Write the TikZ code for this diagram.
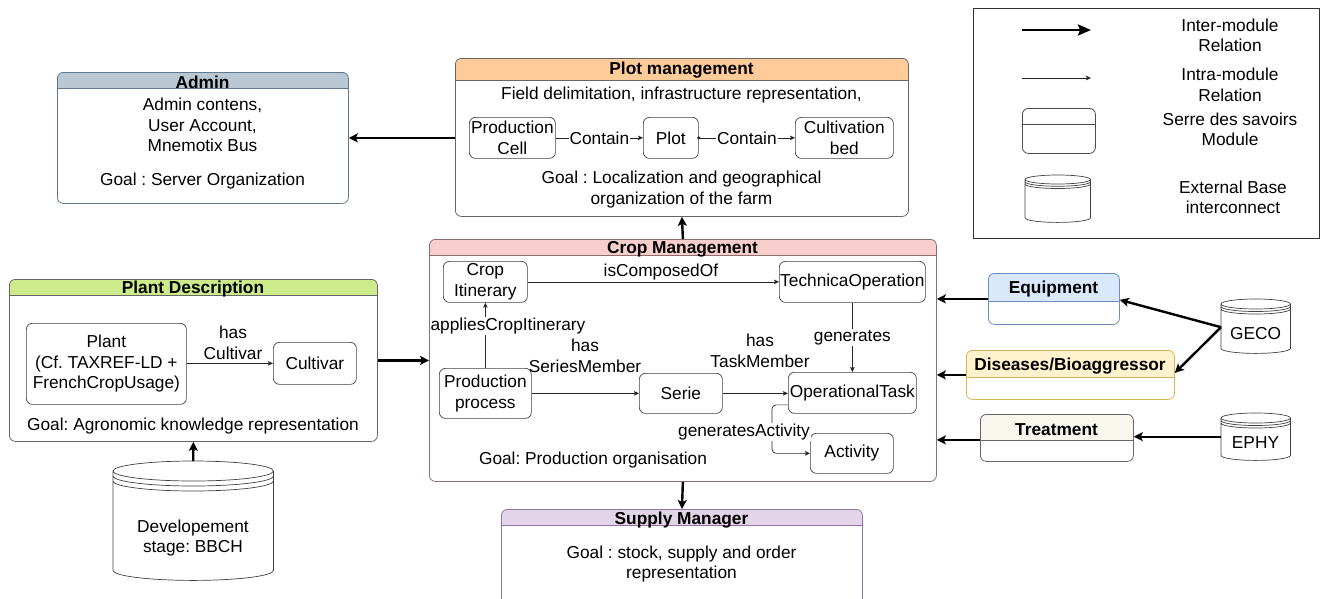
\documentclass[tikz,border=0pt]{standalone}
\usepackage{fontspec}
\setmainfont{Liberation Sans}
\usetikzlibrary{arrows.meta,calc}
\definecolor{adminH}{HTML}{BAC8D3}\definecolor{adminB}{HTML}{5F7A8F}
\definecolor{plotH}{HTML}{FFCC99}\definecolor{grayB}{HTML}{666666}
\definecolor{cropH}{HTML}{F8CECC}\definecolor{cropB}{HTML}{8E6E6D}
\definecolor{plantH}{HTML}{CDEB8B}
\definecolor{supH}{HTML}{E1D5E7}\definecolor{supB}{HTML}{9673A6}
\definecolor{eqH}{HTML}{DAE8FC}\definecolor{eqB}{HTML}{6C8EBF}
\definecolor{disH}{HTML}{FFF2CC}\definecolor{disB}{HTML}{D6B656}
\definecolor{trH}{HTML}{F9F7ED}
\newcommand\dfont{\fontsize{17.3}{20.5}\selectfont\frenchspacing}
\newcommand\dbshape[2]{%
\draw[dbline] let \p1=(#1.north west),\p2=(#1.south east),\n1={(\x2-\x1)/2} in
 (\x1,\y1-#2pt) -- (\x1,\y2+#2pt) arc[start angle=180,end angle=360,x radius=\n1,y radius=#2pt] -- (\x2,\y1-#2pt)
 arc[start angle=0,end angle=360,x radius=\n1,y radius=#2pt]
 (\x1,\y1-1.5*#2pt) arc[start angle=180,end angle=360,x radius=\n1,y radius=#2pt]
 (\x1,\y1-2*#2pt) arc[start angle=180,end angle=360,x radius=\n1,y radius=#2pt];}
\begin{document}
\frenchspacing
\begin{tikzpicture}[x=1pt,y=1pt,
  every node/.style={font=\dfont, align=center, inner sep=0pt},
  module/.style n args={3}{draw=#3, line width=0.8pt, rounded corners=6pt, anchor=north west,
    path picture={\fill[#1, sharp corners] (path picture bounding box.north west) rectangle ([yshift=-#2pt]path picture bounding box.north east);
      \draw[#3, line width=0.8pt, sharp corners] ([yshift=-#2pt]path picture bounding box.north west) -- ([yshift=-#2pt]path picture bounding box.north east);}},
  inbox/.style={draw=black!75, line width=0.7pt, rounded corners=6pt, anchor=north west},
  title/.style={font=\dfont\bfseries},
  dbnode/.style={anchor=north west, draw=none},
  dbline/.style={draw=black!75, line width=0.7pt},
  inter/.style={line width=2.4pt, -{Stealth[length=9pt,width=9pt,inset=2pt]}},
  intra/.style={line width=0.7pt, draw=black!85, -{Stealth[length=5pt,width=4.5pt,inset=1pt]}},
  lbl/.style={fill=white, inner sep=1pt}]
\useasboundingbox (0,0) rectangle (1333,-598);

% ---------- Legend ----------
\node[draw=black!80, line width=0.8pt, anchor=north west, minimum width=346pt, minimum height=230pt] (legend) at (973,-8) {};
\coordinate (la1) at (1022,-30); \coordinate (lb1) at (1091,-30);
\draw[inter, -{Stealth[length=13pt,width=11pt,inset=2pt]}] (la1) -- (lb1);
\coordinate (la2) at (1022,-78); \coordinate (lb2) at (1091,-78);
\draw[intra] (la2) -- (lb2);
\node[module={white}{16}{black!70}, minimum width=73pt, minimum height=45pt] (lmod) at (1022,-108) {};
\node[dbnode, minimum width=65pt, minimum height=47pt] (ldb) at (1025,-175) {};
\dbshape{ldb}{4.5}
\node (lt1) at (1230,-35.5) {Inter-module\\Relation};
\node (lt2) at (1230,-85) {Intra-module\\Relation};
\node (lt3) at (1230,-129.5) {Serre des savoirs\\Module};
\node (lt4) at (1233,-197.5) {External Base\\interconnect};

% ---------- Admin ----------
\node[module={adminH}{16}{adminB}, minimum width=291pt, minimum height=131pt] (admin) at (57,-72) {};
\node[title] (adminT) at (202.5,-82) {Admin};
\node (adminX) at (202.5,-125) {Admin contens,\\User Account,\\Mnemotix Bus};
\node (adminG) at (202.5,-181) {Goal : Server Organization};

% ---------- Plot management ----------
\node[module={plotH}{22}{grayB}, minimum width=453pt, minimum height=158pt] (plotm) at (455,-58) {};
\node[title] (plotT) at (681.5,-70) {Plot management};
\node (plotX) at (681.5,-95) {Field delimitation, infrastructure representation,};
\node[inbox, minimum width=86pt, minimum height=41pt] (pcell) at (469,-117) {Production\\Cell};
\node[inbox, minimum width=55pt, minimum height=41pt] (plot) at (643,-117) {Plot};
\node[inbox, minimum width=98pt, minimum height=41pt] (cbed) at (795,-117) {Cultivation\\bed};
\node (plotG) at (681.5,-189.5) {Goal : Localization and geographical\\organization of the farm};
\draw[intra] (pcell) -- node[lbl] (c1) {Contain} (plot);
\draw[intra] (plot) -- node[lbl] (c2) {Contain} (cbed);
\fill[black!85] (plot.east) circle (1.8pt);

% ---------- Crop management ----------
\node[module={cropH}{16}{cropB}, minimum width=507pt, minimum height=242pt] (crop) at (429,-239) {};
\node[title] (cropT) at (682.5,-249) {Crop Management};
\node[inbox, minimum width=84pt, minimum height=41pt] (cropit) at (443,-261) {Crop\\Itinerary};
\node[inbox, minimum width=146pt, minimum height=41pt] (techop) at (779,-261) {TechnicaOperation};
\node[inbox, minimum width=92pt, minimum height=50pt] (prodproc) at (439,-368) {Production\\process};
\node[inbox, minimum width=83pt, minimum height=40pt] (serie) at (639,-373) {Serie};
\node[inbox, minimum width=128pt, minimum height=41pt] (optask) at (788,-372) {OperationalTask};
\node[inbox, minimum width=83pt, minimum height=40pt] (activity) at (810,-433) {Activity};
\draw[intra] (cropit) -- node[pos=0.53, above=1pt] (isc) {isComposedOf} (techop);
\draw[intra] (prodproc) -- (cropit);
\node[lbl] (apc) at (508,-326) {appliesCropItinerary};
\draw[intra] (prodproc) -- (serie);
\node (hsm) at (585,-356) {has\\SeriesMember};
\draw[intra] (serie) -- (optask.west |- serie.east);
\node (htm) at (760,-351) {has\\TaskMember};
\draw[intra] (techop) -- node[lbl] (gen) {generates} (optask);
\draw[intra, rounded corners=4pt] ([yshift=-12pt]optask.west) -- ++(-16,0) |- (activity.west);
\node[lbl] (gact) at (744,-432) {generatesActivity};
\node (cropG) at (593,-460) {Goal: Production organisation};

% ---------- Plant description ----------
\node[module={plantH}{16}{grayB}, minimum width=368pt, minimum height=162pt] (plantd) at (9,-279) {};
\node[title] (plantT) at (193,-289) {Plant Description};
\node[inbox, minimum width=160pt, minimum height=81pt] (plant) at (26,-323) {Plant\\(Cf. TAXREF-LD +\\FrenchCropUsage)};
\node[inbox, minimum width=83pt, minimum height=42pt] (cultivar) at (273,-342) {Cultivar};
\draw[intra] (plant.east |- cultivar.west) -- (cultivar);
\node (hc) at (233,-343) {has\\Cultivar};
\node (plantG) at (193,-426) {Goal: Agronomic knowledge representation};

% ---------- BBCH ----------
\node[dbnode, minimum width=160pt, minimum height=119pt] (bbch) at (113,-461) {};
\dbshape{bbch}{10}
\node (bbchT) at (193,-538) {Developement\\stage: BBCH};

% ---------- Supply manager ----------
\node[module={supH}{16}{supB}, minimum width=361pt, minimum height=110pt] (supply) at (501,-509) {};
\node[title] (supT) at (681.5,-520) {Supply Manager};
\node (supG) at (681.5,-564) {Goal : stock, supply and order\\representation};

% ---------- Right modules ----------
\node[module={eqH}{28}{eqB}, minimum width=131pt, minimum height=51pt] (equip) at (988,-273) {};
\node[title] (eqT) at (1053.5,-289) {Equipment};
\node[module={disH}{27}{disB}, minimum width=208pt, minimum height=49pt] (dis) at (966,-350) {};
\node[title] (disT) at (1070,-366) {Diseases/Bioaggressor};
\node[module={trH}{26}{grayB}, minimum width=153pt, minimum height=47pt] (treat) at (980,-414) {};
\node[title] (trT) at (1056.5,-430) {Treatment};

\node[dbnode, minimum width=69pt, minimum height=54pt] (geco) at (1221,-299) {};
\dbshape{geco}{5}
\node (gecoT) at (1255.5,-334) {GECO};
\node[dbnode, minimum width=69pt, minimum height=47pt] (ephy) at (1221,-413) {};
\dbshape{ephy}{5}
\node (ephyT) at (1255.5,-443) {EPHY};

% ---------- Inter-module relations ----------
\draw[inter] (plotm.west |- admin.east) -- (admin.east);
\draw[inter] (crop.north) -- (plotm.south);
\draw[inter] (crop.south) -- (supply.north);
\draw[inter] (plantd.east) -- (crop.west);
\draw[inter] (bbch.north) -- (plantd.south);
\draw[inter] (equip.west) -- (equip.west -| crop.east);
\draw[inter] (dis.west) -- (dis.west -| crop.east);
\draw[inter] ([yshift=-2pt]treat.west) -- ([yshift=-2pt]treat.west -| crop.east);
\draw[inter] ([yshift=-1pt]geco.west) -- ([yshift=-1pt]equip.east);
\draw[inter] ([yshift=-1pt]geco.west) -- ([yshift=2pt]dis.east);
\draw[inter] (ephy.west) -- (ephy.west -| treat.east);
\end{tikzpicture}
\end{document}
